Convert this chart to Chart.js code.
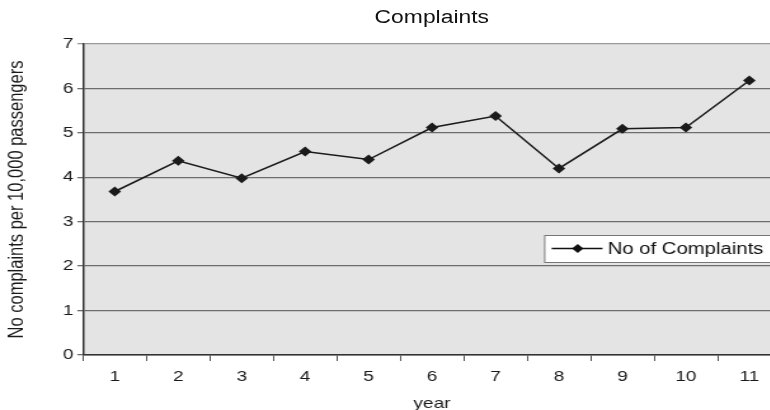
<!DOCTYPE html>
<html>
<head>
<meta charset="utf-8">
<script src="https://cdn.jsdelivr.net/npm/chart.js@4"></script>
<style>
  html, body { margin: 0; padding: 0; background: #fff; overflow: hidden; }
  /* the original picture is stretched sideways, so the whole chart is too */
  #wrap {
    position: absolute; left: 0; top: 0; width: 622px; height: 413px;
    transform: scaleX(1.27); transform-origin: 0 0;
  }
  #chart-title {
    position: absolute; left: 240px; width: 200px; top: 8px;
    text-align: center; font: 18px/18px "Liberation Sans", Arial, sans-serif; color: #111;
  }
  canvas { position: absolute; left: 0; top: 0; }
</style>
</head>
<body>
<div id="wrap">
  <canvas id="complaints-chart" width="622" height="413"></canvas>
  <div id="chart-title">Complaints</div>
</div>
<script>
//chart data
const years = ['1', '2', '3', '4', '5', '6', '7', '8', '9', '10', '11'];
const complaints = [3.68, 4.37, 3.98, 4.58, 4.4, 5.12, 5.38, 4.2, 5.09, 5.12, 6.18];
const yTicks = [0, 1, 2, 3, 4, 5, 6, 7];
const seriesLabel = 'No of Complaints';

const fontFamily = '"Liberation Sans", Arial, sans-serif';

//gray plot background
const plotBackground = {
    id: 'plotBackground',
    beforeDraw: chart => {
        const { ctx, chartArea } = chart;
        ctx.save();
        ctx.fillStyle = '#e4e4e4';
        ctx.fillRect(chartArea.left, chartArea.top, chartArea.right - chartArea.left, chartArea.bottom - chartArea.top);
        ctx.restore();
    }
};

//legend box sitting inside the plot, like the original
const insideLegend = {
    id: 'insideLegend',
    afterDraw: chart => {
        const { ctx, chartArea } = chart;
        const x = chartArea.left + 363;
        const y = chartArea.top + 191;
        const h = 27;
        ctx.save();
        ctx.fillStyle = '#fff';
        ctx.strokeStyle = '#777';
        ctx.lineWidth = 1;
        ctx.fillRect(x, y, 220, h);
        ctx.strokeRect(x + 0.5, y + 0.5, 220, h);

        const my = y + h / 2;
        ctx.strokeStyle = '#111';
        ctx.lineWidth = 1.5;
        ctx.beginPath();
        ctx.moveTo(x + 6, my);
        ctx.lineTo(x + 46, my);
        ctx.stroke();

        const cx = x + 26.5;
        ctx.fillStyle = '#111';
        ctx.beginPath();
        ctx.moveTo(cx, my - 4.5);
        ctx.lineTo(cx + 4.5, my);
        ctx.lineTo(cx, my + 4.5);
        ctx.lineTo(cx - 4.5, my);
        ctx.closePath();
        ctx.fill();

        ctx.font = '16px ' + fontFamily;
        ctx.textBaseline = 'middle';
        ctx.fillText(chart.data.datasets[0].label, x + 50, my + 1);
        ctx.restore();
    }
};

const config = {
    type: 'line',
    data: {
        labels: years,
        datasets: [{
            label: seriesLabel,
            data: complaints,
            borderColor: '#1a1a1a',
            borderWidth: 1.5,
            backgroundColor: '#1a1a1a',
            pointStyle: 'rectRot',
            pointRadius: 5,
            pointBorderWidth: 0,
            tension: 0,
            fill: false,
        }],
    },
    options: {
        responsive: false,
        animation: false,
        layout: { padding: { top: 44, right: 7, bottom: 0, left: 0 } },
        plugins: {
            legend: { display: false },
            title: { display: false },
            tooltip: { enabled: false },
        },
        scales: {
            x: {
                offset: true,
                grid: { display: true, drawOnChartArea: false, offset: true, tickLength: 6, color: '#555' },
                border: { color: '#333', width: 1.5 },
                ticks: { color: '#1a1a1a', padding: 7, font: { family: fontFamily, size: 15 } },
                title: {
                    display: true, text: 'year', color: '#1a1a1a',
                    font: { family: fontFamily, size: 15 },
                    padding: { top: 4, bottom: 0 },
                },
                afterFit: scale => { scale.height = 58; },
            },
            y: {
                min: 0,
                max: 7,
                afterBuildTicks: scale => { scale.ticks = yTicks.map(v => ({ value: v })); },
                grid: {
                    color: ctx => ctx.tick && ctx.tick.value === 7 ? '#9a9a9a' : '#6e6e6e',
                    lineWidth: 1.3,
                    tickLength: 4.5,
                },
                border: { color: '#333', width: 1.5 },
                ticks: { color: '#1a1a1a', padding: 3, font: { family: fontFamily, size: 15 } },
                title: {
                    display: true, text: 'No complaints per 10,000 passengers', color: '#1a1a1a',
                    font: { family: fontFamily, size: 16.5 },
                    padding: { top: 4, bottom: 0 },
                },
                afterFit: scale => { scale.width = 65.4; },
            },
        },
    },
    plugins: [plotBackground, insideLegend],
};

new Chart(document.getElementById('complaints-chart'), config);
</script>
</body>
</html>
